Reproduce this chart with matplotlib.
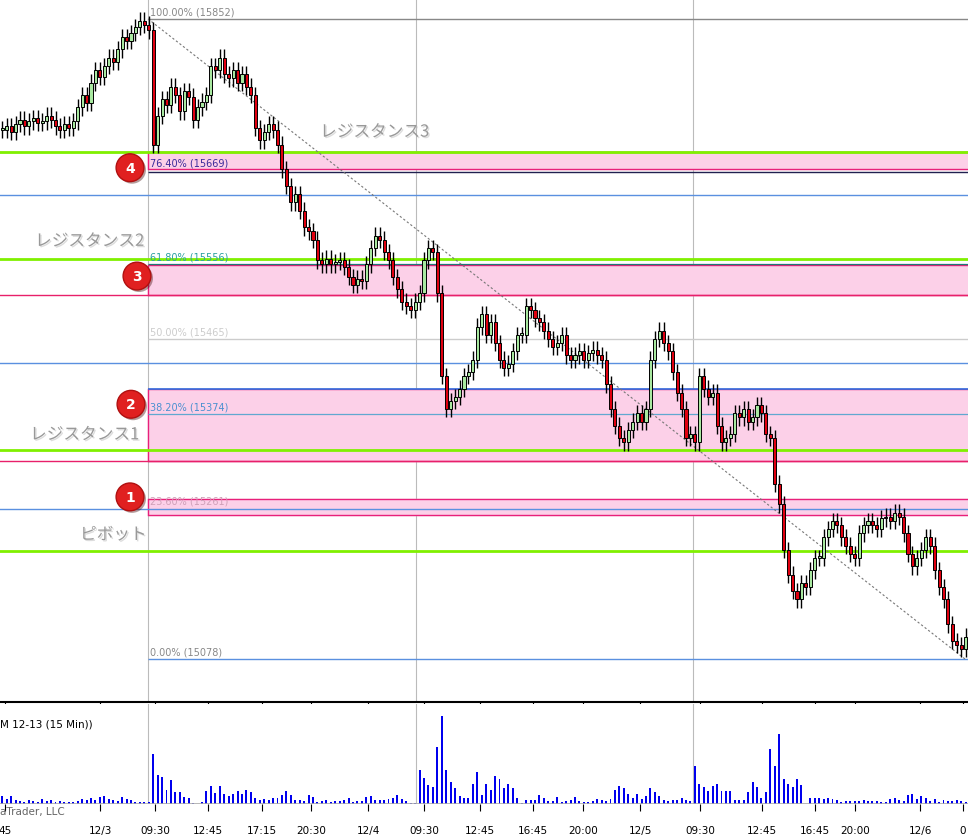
import matplotlib
matplotlib.use("Agg")
import matplotlib.pyplot as plt
import matplotlib.patheffects as pe
import numpy as np

plt.rcParams['font.family'] = ['Noto Sans CJK JP', 'DejaVu Sans']

closes = [15718,15722,15715,15725,15730,15722,15728,15732,15726,
          15728,15735,15730,15722,15718,15725,15720,15728,
          15745,15760,15750,15775,15790,15782,
          15795,15805,15800,15815,15830,
          15825,15835,15842,15850,15845,15838,
          15700,15735,15755,15748,15770,15760,
          15740,15765,15758,15730,15745,15752,
          15760,15795,15790,15805,15785,15780,
          15790,15775,15785,15770,15760,
          15720,15705,15715,15725,15718,15700,
          15670,15650,15630,15640,
          15620,15600,15595,15585,
          15560,15555,15562,15555,15558,15560,15552,15540,
          15530,15538,15535,
          15555,15575,15590,15585,15570,15560,
          15540,15525,15510,15505,
          15500,15510,15520,
          15560,15575,15570,
          15520,15420,
          15380,15390,15395,15405,
          15420,15425,15440,
          15480,15495,15470,15485,
          15460,15440,15430,15435,
          15450,15470,15470,
          15505,15500,15490,15485,15475,15465,
          15455,15460,15470,15445,
          15440,15445,15450,15440,15448,15452,15445,15440,
          15410,15380,15360,
          15345,15340,15355,15365,
          15375,15365,15380,
          15440,15465,15475,15460,
          15450,15425,15400,15380,
          15345,15350,15340,
          15420,15405,15395,15400,
          15360,15340,15345,15350,
          15375,15370,15380,15365,15370,15385,15375,
          15350,15345,
          15290,15265,
          15210,15180,
          15160,15150,
          15170,15165,15185,15200,15200,
          15225,15235,15245,15240,
          15225,15215,15205,15200,
          15230,15240,15245,15240,15235,15248,
          15250,15245,15255,15250,
          15230,15205,15190,
          15200,15210,15225,15215,15185,
          15165,15150,15120,
          15100,15095,15090,15105]

volumes = [8,5,8,4,3,2,4,3,2,
           5,3,4,2,3,2,2,2,
           3,5,4,6,4,7,
           8,5,4,3,7,
           5,4,2,2,2,2,
           50,29,27,14,24,12,
           12,7,6,1,0,2,
           13,18,11,18,10,8,
           10,13,10,14,12,
           6,4,5,4,6,6,
           9,13,9,4,
           4,3,9,7,2,
           3,4,2,3,3,4,
           6,2,3,3,7,8,
           4,4,4,5,6,9,
           5,3,1,1,
           34,26,19,17,
           57,88,34,22,
           16,8,6,6,
           20,32,9,20,
           14,28,25,16,
           20,16,6,
           1,4,4,4,
           9,6,3,3,
           7,2,3,4,
           7,3,2,2,
           3,5,4,3,5,
           14,18,16,10,
           6,10,5,8,
           16,12,8,4,
           3,4,4,
           6,4,3,
           38,20,17,13,
           18,20,13,13,
           13,4,4,4,
           12,22,17,
           6,12,55,38,70,25,
           20,17,
           25,19,
           0,6,6,
           6,5,6,5,
           4,2,3,3,
           3,3,4,3,
           3,3,2,2,
           5,6,4,3,
           9,10,5,8,
           6,3,5,2,
           4,3,3,4,3,2]

tick_labels = ["45", "12/3", "09:30", "12:45", "17:15", "20:30", "12/4", "09:30",
               "12:45", "16:45", "20:00", "12/5", "09:30", "12:45", "16:45", "20:00", "12/6", "0"]
tick_px = [5, 100, 155, 208, 262, 311, 368, 424, 480, 533, 583, 640, 700, 762, 815, 855, 920, 963]

fib_levels = [15852, 15669, 15556, 15465, 15374, 15261, 15078]
fib_text = ["100.00% (15852)", "76.40% (15669)", "61.80% (15556)", "50.00% (15465)",
            "38.20% (15374)", "23.60% (15261)", "0.00% (15078)"]
fib_colors = ["#888888", "#3a2a9a", "#2aa0a0", "#cccccc", "#4a90d0", "#d0a0b8", "#888888"]

green_lines = [15691, 15562, 15331, 15209]
bands = [(15671, 15691, "4"), (15518, 15554, "3"), (15317, 15405, "2"), (15252, 15271, "1")]

W, H = 968, 837
PX = 4.44
def xi(px):
    return px / PX - 0.5

fig = plt.figure(figsize=(W/100, H/100), dpi=100)
ax = fig.add_axes([0, 1 - 703/H, 1, 703/H])
axv = fig.add_axes([0, 1 - 805/H, 1, 100/H], sharex=ax)

n = len(closes)
x = np.arange(n)
opens = [closes[0]] + closes[:-1]
xmin, xmax = -0.5, xi(W)
ax.set_xlim(xmin, xmax)
ax.set_ylim(15026, 15876)

x0 = xi(148)
for px in [148, 416, 693]:
    ax.axvline(xi(px), color="#bbbbbb", lw=0.8, zorder=0)
    axv.axvline(xi(px), color="#bbbbbb", lw=0.8, zorder=0)

for lo, hi, lab in bands:
    ax.fill_between([x0, xmax], lo, hi, color="#fcd0e8", zorder=0.5)
    ax.hlines([lo, hi], x0, xmax, color="#e8207a", lw=1.0, zorder=1)
    ax.plot([x0, x0], [lo, hi], color="#e8207a", lw=1.0, zorder=1)
for y in [15639, 15436, 15259]:
    ax.axhline(y, color="#5a90e0", lw=1.0, zorder=1)
ax.hlines(15405, x0, xmax, color="#3070e0", lw=1.2, zorder=1)
for y in [15518, 15317]:
    ax.axhline(y, color="#e8206a", lw=1.0, zorder=1)
ax.hlines(15667, x0, xmax, color="#202050", lw=1.0, zorder=1)
ax.axhline(15691, color="#202050", lw=0.8, zorder=1)
for y in green_lines:
    ax.axhline(y, color="#80f000", lw=2.0, zorder=1.2)

for lvl, t, c in zip(fib_levels, fib_text, fib_colors):
    lc = {15852: "#888888", 15078: "#5a90e0"}.get(lvl, "#cccccc")
    if lvl in (15852, 15465, 15078):
        ax.hlines(lvl, x0, xmax, color=lc, lw=1.0, zorder=1)
    ax.text(xi(150), lvl + 3, t, color=c, fontsize=7, va="bottom", ha="left",
            family="DejaVu Sans", zorder=3)
ax.hlines(15374, x0, xmax, color="#60a8d0", lw=0.9, zorder=1)
ax.hlines(15556, x0, xmax, color="#207878", lw=0.9, zorder=1)

ax.plot([x0, xi(965)], [15852, 15078], ls=(0, (2, 2)), color="#777777", lw=0.8, zorder=1.5)

wick = 10
for i in range(n):
    o, c = opens[i], closes[i]
    hi = max(o, c) + wick
    lo = min(o, c) - wick
    ax.vlines(i, lo, hi, color="black", lw=1.0, zorder=2)
    col = "#a8e8a0" if c >= o else "#e00010"
    h = abs(c - o) if abs(c - o) > 2 else 2
    ax.bar(i, h, bottom=min(o, c), width=0.7, color=col, edgecolor="black", lw=0.7, zorder=2.5)

sh = [pe.withSimplePatchShadow(offset=(1, -1), shadow_rgbFace="#bbbbbb", alpha=0.5)]
for tx, pxx, price in [("レジスタンス3", 320, 15715), ("レジスタンス2", 35, 15583),
                       ("レジスタンス1", 30, 15349), ("ピボット", 80, 15228)]:
    ax.text(xi(pxx), price, tx, fontsize=12, color="#999999", ha="left", va="center",
            path_effects=sh, zorder=3)

for (lo, hi, lab), pxx, py in zip(bands, [130, 137, 131, 130], [15672, 15541, 15386, 15274]):
    ax.plot(xi(pxx), py, "o", ms=20, color="#e02020", mec="#b01010", zorder=4,
            path_effects=[pe.withSimplePatchShadow(offset=(1.5, -1.5), alpha=0.4)])
    ax.text(xi(pxx), py, lab, color="white", fontsize=10, fontweight="bold",
            ha="center", va="center", family="DejaVu Sans", zorder=5)

ax.set_xticks([]); ax.set_yticks([])
for s in ax.spines.values():
    s.set_visible(False)
ax.spines["bottom"].set_visible(True)
ax.spines["bottom"].set_linewidth(1.5)

axv.bar(x, volumes, width=0.45, color="#0000ee", zorder=2)
axv.set_ylim(0, 100)
axv.axhline(0, color="#aaaaaa", lw=1.2)
for s in axv.spines.values():
    s.set_visible(False)
axv.set_yticks([])
axv.set_xticks([xi(p) for p in tick_px])
axv.set_xticklabels(tick_labels, fontsize=7.5, family="DejaVu Sans")
axv.tick_params(axis="x", length=5, pad=10, color="black")
axv.text(0.0, 0.8, "M 12-13 (15 Min))", transform=axv.transAxes, fontsize=7.5,
         family="DejaVu Sans", ha="left", va="center")
axv.text(0.0, -0.02, "aTrader, LLC", transform=axv.transAxes, fontsize=7.5,
         color="#666666", family="DejaVu Sans", ha="left", va="top")
fig.savefig("out.png", dpi=100)
